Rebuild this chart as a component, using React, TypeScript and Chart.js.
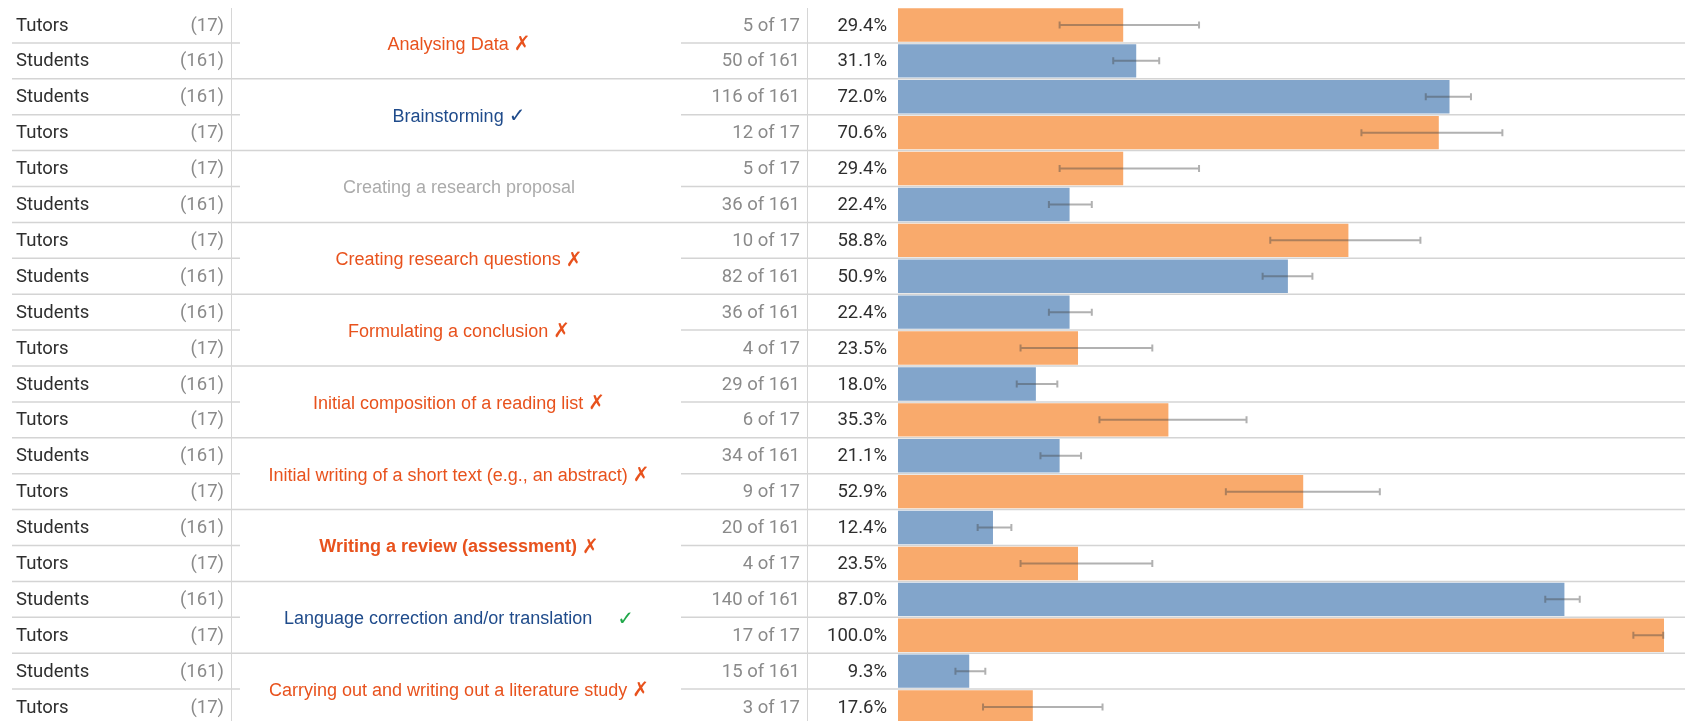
import React, { useEffect, useRef } from "react";
import { Chart, registerables } from "chart.js";

Chart.register(...registerables);

// ---------------- data ----------------
const categories = [
  "Analysing Data",
  "Brainstorming",
  "Creating a research proposal",
  "Creating research questions",
  "Formulating a conclusion",
  "Initial composition of a reading list",
  "Initial writing of a short text (e.g., an abstract)",
  "Writing a review (assessment)",
  "Language correction and/or translation",
  "Carrying out and writing out a literature study",
];
const categoryMarks = ["✗", "✓", "", "✗", "✗", "✗", "✗", "✗", "✓", "✗"];

const rowGroups = [
  "Tutors", "Students",
  "Students", "Tutors",
  "Tutors", "Students",
  "Tutors", "Students",
  "Students", "Tutors",
  "Students", "Tutors",
  "Students", "Tutors",
  "Students", "Tutors",
  "Students", "Tutors",
  "Students", "Tutors",
];
const rowTotals = [17, 161, 161, 17, 17, 161, 17, 161, 161, 17, 161, 17, 161, 17, 161, 17, 161, 17, 161, 17];
const rowCounts = [5, 50, 116, 12, 5, 36, 10, 82, 36, 4, 29, 6, 34, 9, 20, 4, 140, 17, 15, 3];
const rowPercents = [29.4, 31.1, 72.0, 70.6, 29.4, 22.4, 58.8, 50.9, 22.4, 23.5, 18.0, 35.3, 21.1, 52.9, 12.4, 23.5, 87.0, 100.0, 9.3, 17.6];
const errorLow = [21.1, 28.1, 68.9, 60.5, 21.1, 19.7, 48.6, 47.6, 19.7, 16.0, 15.5, 26.3, 18.6, 42.8, 10.4, 16.0, 84.5, 96.0, 7.5, 11.1];
const errorHigh = [39.3, 34.1, 74.8, 78.9, 39.3, 25.3, 68.2, 54.1, 25.3, 33.2, 20.8, 45.5, 23.9, 62.9, 14.8, 33.2, 89.0, 99.9, 11.4, 26.7];

// ---------------- styles ----------------
const W = 1685;
const H = 726;
const ORANGE = "#F9AA6C";
const BLUE = "#82A5CB";
const RED_TEXT = "#E8521D";
const BLUE_TEXT = "#1F4B8B";
const GRAY_TEXT = "#ABABAB";
const GREEN_MARK = "#20A84A";
const DARK = "#2E2E2E";
const MID = "#8A8A8A";
const GRID = "#D4D4D4";
const ROW_FONT = '18.5px Roboto, sans-serif';
const CAT_FONT = '18px "Liberation Sans", Arial, sans-serif';
const CAT_FONT_BOLD = 'bold 18px "Liberation Sans", Arial, sans-serif';
const MARK_FONT = '20px "DejaVu Sans", sans-serif';
const MARK_FONT_BOLD = 'bold 20px "DejaVu Sans", sans-serif';
const BOLD_CATEGORY = 7;
const GREEN_MARK_CATEGORY = 8;

const tablePlugin = {
  id: "tablePlugin",
  beforeDatasetsDraw(chart: any) {
    const ctx: CanvasRenderingContext2D = chart.ctx;
    const y = chart.scales.y;
    const area = chart.chartArea;
    const n = rowPercents.length;
    const rowH = Math.abs(y.getPixelForValue(1) - y.getPixelForValue(0));
    ctx.save();
    ctx.strokeStyle = GRID;
    ctx.lineWidth = 1.5;
    const hline = (x1: number, x2: number, yy: number) => {
      ctx.beginPath();
      ctx.moveTo(x1, yy);
      ctx.lineTo(x2, yy);
      ctx.stroke();
    };
    for (let i = 0; i < n; i++) {
      const yb = y.getPixelForValue(i) + rowH / 2;
      if (i % 2 === 1) {
        hline(12, W, yb);
      } else {
        hline(12, 240, yb);
        hline(681, W, yb);
      }
    }
    ctx.lineWidth = 1;
    ctx.strokeStyle = "#D6D6D6";
    for (const vx of [231.5, 807.5]) {
      ctx.beginPath();
      ctx.moveTo(vx, area.top + 1);
      ctx.lineTo(vx, area.bottom);
      ctx.stroke();
    }
    ctx.restore();
  },
  afterDatasetsDraw(chart: any) {
    const ctx: CanvasRenderingContext2D = chart.ctx;
    const x = chart.scales.x;
    const y = chart.scales.y;
    const n = rowPercents.length;
    ctx.save();
    // error bars
    ctx.strokeStyle = "rgba(70,70,70,0.42)";
    ctx.lineWidth = 2;
    for (let i = 0; i < n; i++) {
      const cy = y.getPixelForValue(i);
      const x1 = x.getPixelForValue(errorLow[i]);
      const x2 = x.getPixelForValue(errorHigh[i]);
      ctx.beginPath();
      ctx.moveTo(x1, cy);
      ctx.lineTo(x2, cy);
      ctx.moveTo(x1, cy - 3.5);
      ctx.lineTo(x1, cy + 3.5);
      ctx.moveTo(x2, cy - 3.5);
      ctx.lineTo(x2, cy + 3.5);
      ctx.stroke();
    }
    // row texts
    ctx.textBaseline = "middle";
    ctx.font = ROW_FONT;
    for (let i = 0; i < n; i++) {
      const cy = y.getPixelForValue(i) + 1;
      ctx.textAlign = "left";
      ctx.fillStyle = DARK;
      ctx.fillText(rowGroups[i], 16, cy);
      ctx.textAlign = "right";
      ctx.fillStyle = MID;
      ctx.fillText(`(${rowTotals[i]})`, 224, cy);
      ctx.fillText(`${rowCounts[i]} of ${rowTotals[i]}`, 800, cy);
      ctx.fillStyle = DARK;
      ctx.fillText(`${rowPercents[i].toFixed(1)}%`, 887, cy);
    }
    // category labels
    for (let c = 0; c < categories.length; c++) {
      const cy = (y.getPixelForValue(2 * c) + y.getPixelForValue(2 * c + 1)) / 2 + 2;
      const mark = categoryMarks[c];
      const font = c === BOLD_CATEGORY ? CAT_FONT_BOLD : CAT_FONT;
      const markFont = mark === "✗" ? MARK_FONT_BOLD : MARK_FONT;
      ctx.font = font;
      const label = categories[c];
      const gap = mark ? (c === GREEN_MARK_CATEGORY ? "     " : " ") : "";
      const labelW = ctx.measureText(label + gap).width;
      ctx.font = markFont;
      const markW = mark ? ctx.measureText(mark).width : 0;
      const total = labelW + markW;
      const startX = 459 - total / 2;
      const labelColor = mark === "✗" ? RED_TEXT : mark === "✓" ? BLUE_TEXT : GRAY_TEXT;
      const markColor = c === GREEN_MARK_CATEGORY ? GREEN_MARK : labelColor;
      ctx.textAlign = "left";
      ctx.font = font;
      ctx.fillStyle = labelColor;
      ctx.fillText(label + gap, startX, cy);
      if (mark) {
        ctx.font = markFont;
        ctx.fillStyle = markColor;
        ctx.fillText(mark, startX + labelW, cy);
      }
    }
    ctx.restore();
  },
};

export default function App() {
  const ref = useRef<HTMLCanvasElement>(null);
  useEffect(() => {
    const canvas = ref.current;
    if (!canvas) return;
    const chart = new Chart(canvas, {
      type: "bar",
      data: {
        labels: rowGroups,
        datasets: [
          {
            data: rowPercents,
            backgroundColor: rowGroups.map((g) => (g === "Tutors" ? ORANGE : BLUE)),
            barPercentage: 0.93,
            categoryPercentage: 1,
            borderWidth: 0,
          },
        ],
      },
      options: {
        indexAxis: "y",
        responsive: false,
        animation: false,
        devicePixelRatio: 1,
        layout: { padding: { left: 898, right: 21, top: 7, bottom: 1 } },
        scales: {
          x: { display: false, min: 0, max: 100 },
          y: { display: false },
        },
        plugins: { legend: { display: false }, tooltip: { enabled: false } },
      },
      plugins: [tablePlugin],
    } as any);
    const fonts: any = (document as any).fonts;
    if (fonts && fonts.load) {
      Promise.all([fonts.load(ROW_FONT), fonts.load(CAT_FONT), fonts.load(CAT_FONT_BOLD), fonts.load(MARK_FONT)])
        .then(() => chart.draw())
        .catch(() => {});
    }
    return () => chart.destroy();
  }, []);
  return (
    <div
      style={{
        position: "fixed",
        left: 0,
        top: 0,
        width: W,
        height: 721,
        overflow: "hidden",
        background: "#ffffff",
      }}
    >
      <canvas ref={ref} width={W} height={H} style={{ display: "block", width: W, height: H }} />
    </div>
  );
}
